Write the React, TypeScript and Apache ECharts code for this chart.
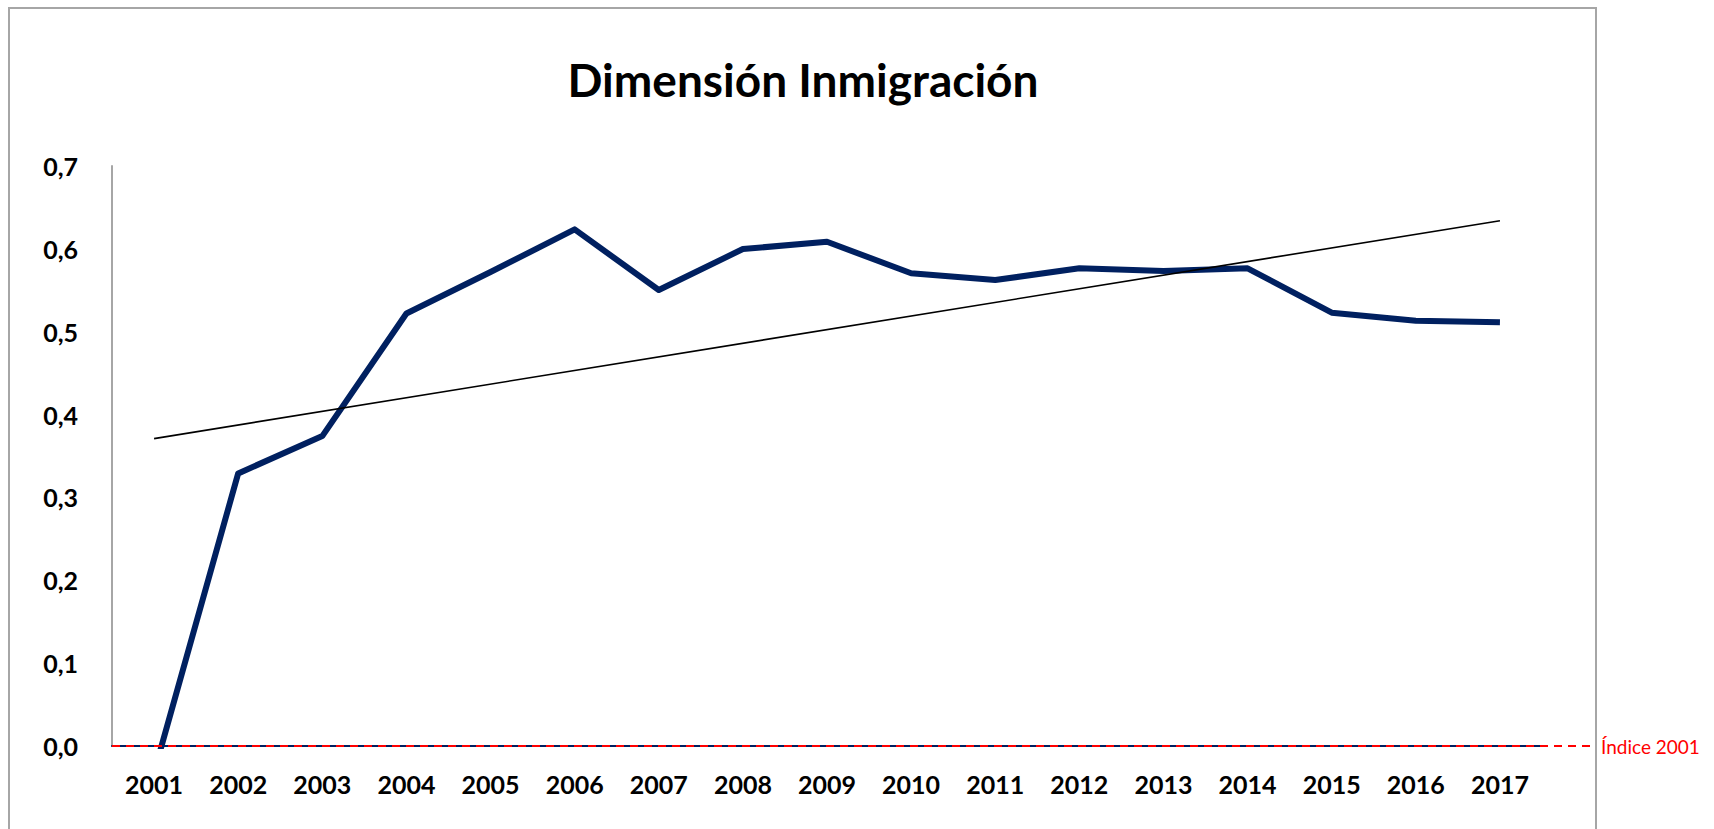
import React, { useEffect, useRef } from "react";
import * as echarts from "echarts";

const TITLE = "Dimensión Inmigración";
const years = ["2001","2002","2003","2004","2005","2006","2007","2008","2009","2010","2011","2012","2013","2014","2015","2016","2017"];
const inmigracion = [-0.032, 0.329, 0.374, 0.522, 0.572, 0.6235, 0.5503, 0.5998, 0.6086, 0.5705, 0.5624, 0.5765, 0.5733, 0.5765, 0.523, 0.5133, 0.5113];
const trendStart = 0.371;
const trendEnd = 0.634;
const yTicks = { min: 0, max: 0.7, interval: 0.1 };
const refLabel = "Índice 2001";
const refValue = 0;

export default function App() {
  const ref = useRef<HTMLDivElement>(null);
  useEffect(() => {
    if (!ref.current) return;
    const chart = echarts.init(ref.current, null, { renderer: "svg" });
    const font = "Lato, 'Open Sans', sans-serif";
    chart.setOption({
      animation: false,
      backgroundColor: "#ffffff",
      grid: { left: 112, top: 166, width: 1430, height: 580, containLabel: false },
      xAxis: {
        type: "category",
        data: years,
        boundaryGap: true,
        axisLine: { show: true, lineStyle: { color: "#002060", width: 2 } },
        axisTick: { show: false },
        axisLabel: { fontFamily: font, fontWeight: "bold", fontSize: 25, color: "#000", margin: 25 },
        splitLine: { show: false },
        z: 1,
      },
      yAxis: {
        type: "value",
        min: yTicks.min,
        max: yTicks.max,
        interval: yTicks.interval,
        axisLine: { show: true, lineStyle: { color: "#a6a6a6", width: 2 } },
        axisTick: { show: false },
        splitLine: { show: false },
        axisLabel: {
          fontFamily: font,
          fontWeight: "bold",
          fontSize: 25,
          color: "#000",
          margin: 34,
          formatter: (v: number) => v.toFixed(1).replace(".", ","),
        },
      },
      series: [
        {
          type: "line",
          name: "Inmigración",
          data: inmigracion,
          symbol: "none",
          clip: true,
          lineStyle: { color: "#002060", width: 6, join: "round", cap: "butt" },
          z: 3,
        },
        {
          type: "line",
          name: "Tendencia",
          data: [[years[0], trendStart], [years[years.length - 1], trendEnd]],
          symbol: "none",
          lineStyle: { color: "#000", width: 1.6 },
          z: 4,
        },
      ],
    });
    const y0 = chart.convertToPixel({ yAxisIndex: 0 }, refValue) as number;
    const gridLeft = 112;
    chart.setOption({
      graphic: [
        {
          type: "rect",
          shape: { x: 9, y: 8, width: 1587, height: 900 },
          style: { fill: "none", stroke: "#a6a6a6", lineWidth: 2 },
          z: 0,
          silent: true,
        },
        {
          type: "text",
          x: 803,
          y: 79,
          style: {
            text: TITLE,
            fill: "#000",
            font: "bold 46px Lato, 'Open Sans', sans-serif",
            align: "center",
            verticalAlign: "middle",
          },
          z: 10,
          silent: true,
        },
        {
          type: "line",
          shape: { x1: gridLeft, y1: y0, x2: 1594, y2: y0 },
          style: { stroke: "#ff0000", lineWidth: 2, lineDash: [8, 6] },
          z: 10,
          silent: true,
        },
        {
          type: "text",
          x: 1601,
          y: y0,
          style: {
            text: refLabel,
            fill: "#ff0000",
            font: "19px Lato, 'Open Sans', sans-serif",
            verticalAlign: "middle",
            align: "left",
          },
          z: 10,
          silent: true,
        },
      ],
    });
    return () => chart.dispose();
  }, []);
  return <div ref={ref} style={{ position: "absolute", left: 0, top: 0, width: 1714, height: 829 }} />;
}
